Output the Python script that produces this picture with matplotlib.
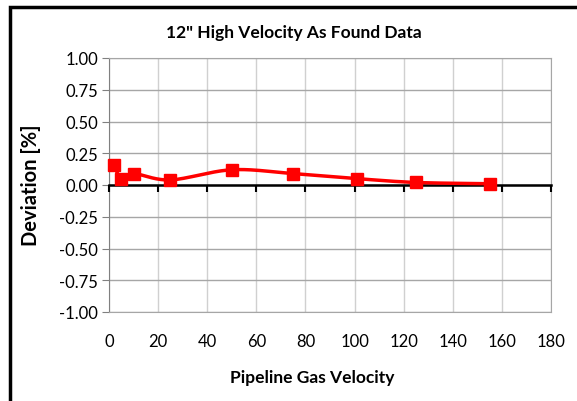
import numpy as np
import matplotlib
matplotlib.use("Agg")
import matplotlib.pyplot as plt
from matplotlib.patches import Rectangle

velocity = [2, 5, 10, 25, 50, 75, 101, 125, 155]
deviation = [0.16, 0.05, 0.09, 0.04, 0.12, 0.09, 0.05, 0.02, 0.01]
x_ticks = [0, 20, 40, 60, 80, 100, 120, 140, 160, 180]
y_ticks = [-1.0, -0.75, -0.5, -0.25, 0.0, 0.25, 0.5, 0.75, 1.0]
title = '12" High Velocity As Found Data'
xlabel = "Pipeline Gas Velocity"
ylabel = "Deviation [%]"

plt.rcParams['font.family'] = ['Lato', 'DejaVu Sans']

def smooth(xs, ys, n=30):
    # Bezier smoothing through the data points (like Excel's smoothed line)
    xs = np.asarray(xs, float); ys = np.asarray(ys, float)
    px = np.concatenate([[xs[0]], xs, [xs[-1]]])
    py = np.concatenate([[ys[0]], ys, [ys[-1]]])
    ox, oy = [], []
    for i in range(1, len(px) - 2):
        p0, p1, p2, p3 = (np.array([px[j], py[j]]) for j in (i - 1, i, i + 1, i + 2))
        c1 = p1 + (p2 - p0) / 6.0
        c2 = p2 - (p3 - p1) / 6.0
        t = np.linspace(0, 1, n)[:, None]
        b = (1 - t) ** 3 * p1 + 3 * (1 - t) ** 2 * t * c1 + 3 * (1 - t) * t ** 2 * c2 + t ** 3 * p2
        ox.extend(b[:, 0]); oy.extend(b[:, 1])
    return np.array(ox), np.array(oy)

fig = plt.figure(figsize=(5.77, 4.02), dpi=100)
ax = fig.add_axes([109/577, 1 - 313/402, (551-109)/577, (313-59)/402])

ax.set_xlim(0, 180)
ax.set_ylim(-1, 1)
ax.set_xticks(x_ticks)
ax.set_yticks(y_ticks)
ax.set_yticklabels([f"{v:.2f}" for v in y_ticks], fontsize=12)
ax.set_xticklabels([str(v) for v in x_ticks], fontsize=12)
ax.tick_params(axis='x', length=0, pad=15)
ax.tick_params(axis='y', length=5, color='#808080', pad=3)
ax.grid(axis='x', color='#d0d0d0', lw=1)
ax.grid(axis='y', color='#a6a6a6', lw=1)
ax.set_axisbelow(True)
for s in ['top', 'right', 'bottom']:
    ax.spines[s].set_color('#a6a6a6')
ax.spines['left'].set_color('#808080')

# zero axis with tick marks
ax2 = ax.twiny()
ax2.set_xlim(0, 180)
ax2.set_xticks(x_ticks)
ax2.set_xticklabels([])
ax2.spines['top'].set_visible(False)
ax2.spines['right'].set_visible(False)
ax2.spines['left'].set_visible(False)
ax2.spines['bottom'].set_position(('data', 0))
ax2.spines['bottom'].set_linewidth(1.8)
ax2.spines['bottom'].set_color('black')
ax2.xaxis.set_ticks_position('bottom')
ax2.tick_params(axis='x', length=5, width=1.5, color='black', direction='out')
ax2.set_zorder(1)

sx, sy = smooth(velocity, deviation)
ax2.plot(sx, sy, color='#ff0000', lw=2.5, zorder=3, clip_on=False)
ax2.plot(velocity, deviation, ls='none', marker='s', ms=8.5, color='#ff0000', zorder=4, clip_on=False)

fig.text(294/577, 1 - 33/402, title, ha='center', va='center',
         fontsize=12.5, fontweight='bold')
fig.text(312/577, 1 - 378/402, xlabel, ha='center', va='center',
         fontsize=12.5, fontweight='bold')
fig.text(31/577, 1 - 185/402, ylabel, ha='center', va='center', rotation=90,
         fontsize=14.5, fontweight='bold')

fig.add_artist(Rectangle((10/577, -0.1), 1.2, 1 + 0.1 - 8/402, transform=fig.transFigure,
                         fill=False, edgecolor='black', lw=2.5))

fig.savefig("out.png", dpi=100)
